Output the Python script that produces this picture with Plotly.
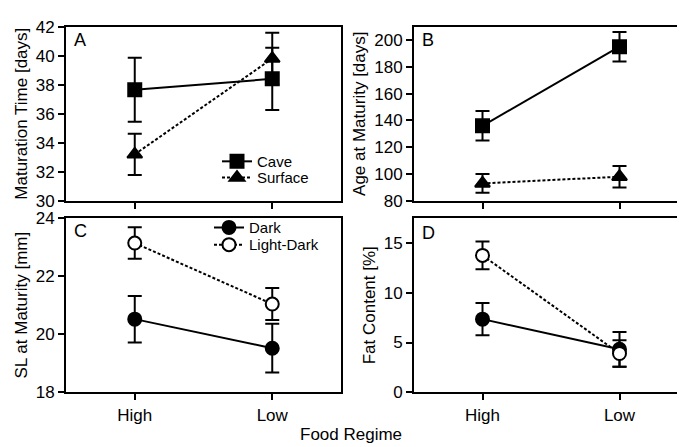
import plotly.graph_objects as go

regime = ["High", "Low"]

# Panel A: Maturation Time [days]
cave_mat = [37.65, 38.4]
cave_mat_err = [2.2, 2.15]
surf_mat = [33.2, 39.8]
surf_mat_err = [1.42, 1.78]

# Panel B: Age at Maturity [days]
cave_age = [136, 195]
cave_age_err = [11, 11]
surf_age = [93, 98]
surf_age_err = [7, 8]

# Panel C: SL at Maturity [mm]
dark_sl = [20.52, 19.52]
dark_sl_err = [0.8, 0.84]
ld_sl = [23.14, 21.04]
ld_sl_err = [0.54, 0.55]

# Panel D: Fat Content [%]
dark_fat = [7.35, 4.32]
dark_fat_err = [1.62, 1.74]
ld_fat = [13.75, 3.9]
ld_fat_err = [1.4, 1.32]

FONT = "Liberation Sans, Arial, sans-serif"
BLACK = "#000000"

fig = go.Figure()


def add(y, err, xa, ya, name, symbol, fill, dash, legend, show):
    fig.add_trace(go.Scatter(
        x=regime, y=y, xaxis=xa, yaxis=ya, name=name,
        mode="lines+markers",
        line=dict(color=BLACK, width=2, dash=dash),
        marker=dict(symbol=symbol, size=13,
                    color=fill, line=dict(color=BLACK, width=2)),
        error_y=dict(type="data", array=err, visible=True, color=BLACK,
                     thickness=2, width=7),
        legend=legend, showlegend=show,
    ))


add(cave_mat, cave_mat_err, "x", "y", "Cave", "square", BLACK, "solid", "legend", True)
add(surf_mat, surf_mat_err, "x", "y", "Surface", "triangle-up", BLACK, "3px,2px", "legend3", True)
add(cave_age, cave_age_err, "x2", "y2", "Cave", "square", BLACK, "solid", "legend", False)
add(surf_age, surf_age_err, "x2", "y2", "Surface", "triangle-up", BLACK, "3px,2px", "legend3", False)
add(dark_sl, dark_sl_err, "x3", "y3", "Dark", "circle", BLACK, "solid", "legend2", True)
add(ld_sl, ld_sl_err, "x3", "y3", "Light-Dark", "circle", "#ffffff", "3px,2px", "legend4", True)
add(dark_fat, dark_fat_err, "x4", "y4", "Dark", "circle", BLACK, "solid", "legend2", False)
add(ld_fat, ld_fat_err, "x4", "y4", "Light-Dark", "circle", "#ffffff", "3px,2px", "legend4", False)

W, H = 685, 447


def fx(px):
    return px / W


def fy(py):
    return 1 - py / H


left_dom = [fx(58), fx(333)]
right_dom = [fx(406), fx(680)]
top_dom = [fy(192), fy(10)]
bot_dom = [fy(392), fy(210)]

ax_common = dict(showline=True, linewidth=2, linecolor=BLACK, mirror=True,
                 ticks="outside", ticklen=6, tickwidth=2, tickcolor=BLACK,
                 showgrid=False, zeroline=False,
                 tickfont=dict(family=FONT, size=17, color=BLACK))

xcommon = dict(ax_common, type="category", range=[-0.5, 1.5])
tfont = dict(size=17, color=BLACK, family=FONT)


def leg(px, py):
    return dict(x=fx(px), y=fy(py), xanchor="left", yanchor="middle",
                bgcolor="rgba(0,0,0,0)", font=dict(size=15, color=BLACK, family=FONT),
                itemwidth=30)


fig.update_layout(
    width=W, height=H,
    margin=dict(l=0, r=0, t=0, b=0),
    paper_bgcolor="white", plot_bgcolor="white",
    font=dict(family=FONT, color=BLACK),
    xaxis=dict(xcommon, domain=left_dom, anchor="y", showticklabels=False),
    xaxis2=dict(xcommon, domain=right_dom, anchor="y2", showticklabels=False),
    xaxis3=dict(xcommon, domain=left_dom, anchor="y3"),
    xaxis4=dict(xcommon, domain=right_dom, anchor="y4"),
    yaxis=dict(ax_common, domain=top_dom, anchor="x", range=[30, 42], dtick=2,
               title=dict(text="Maturation Time [days]", font=tfont, standoff=4)),
    yaxis2=dict(ax_common, domain=top_dom, anchor="x2", range=[80, 210], dtick=20,
                title=dict(text="Age at Maturity [days]", font=tfont, standoff=4)),
    yaxis3=dict(ax_common, domain=bot_dom, anchor="x3", range=[18, 24], dtick=2,
                title=dict(text="SL at Maturity [mm]", font=tfont, standoff=4)),
    yaxis4=dict(ax_common, domain=bot_dom, anchor="x4", range=[0, 17.5], dtick=5,
                title=dict(text="Fat Content [%]", font=tfont, standoff=4)),
    legend=leg(209, 151),
    legend3=leg(209, 168),
    legend2=leg(201, 220),
    legend4=leg(201, 238),
    showlegend=True,
    annotations=[
        dict(text="A", x=fx(64), y=fy(11), xref="paper", yref="paper",
             xanchor="left", yanchor="top", showarrow=False, font=dict(size=18)),
        dict(text="B", x=fx(412), y=fy(11), xref="paper", yref="paper",
             xanchor="left", yanchor="top", showarrow=False, font=dict(size=18)),
        dict(text="C", x=fx(64), y=fy(211), xref="paper", yref="paper",
             xanchor="left", yanchor="top", showarrow=False, font=dict(size=18)),
        dict(text="D", x=fx(412), y=fy(213), xref="paper", yref="paper",
             xanchor="left", yanchor="top", showarrow=False, font=dict(size=18)),
        dict(text="Food Regime", x=fx(343), y=fy(436), xref="paper", yref="paper",
             xanchor="center", yanchor="middle", showarrow=False, font=dict(size=17)),
    ],
)

fig.write_html("out.html")
